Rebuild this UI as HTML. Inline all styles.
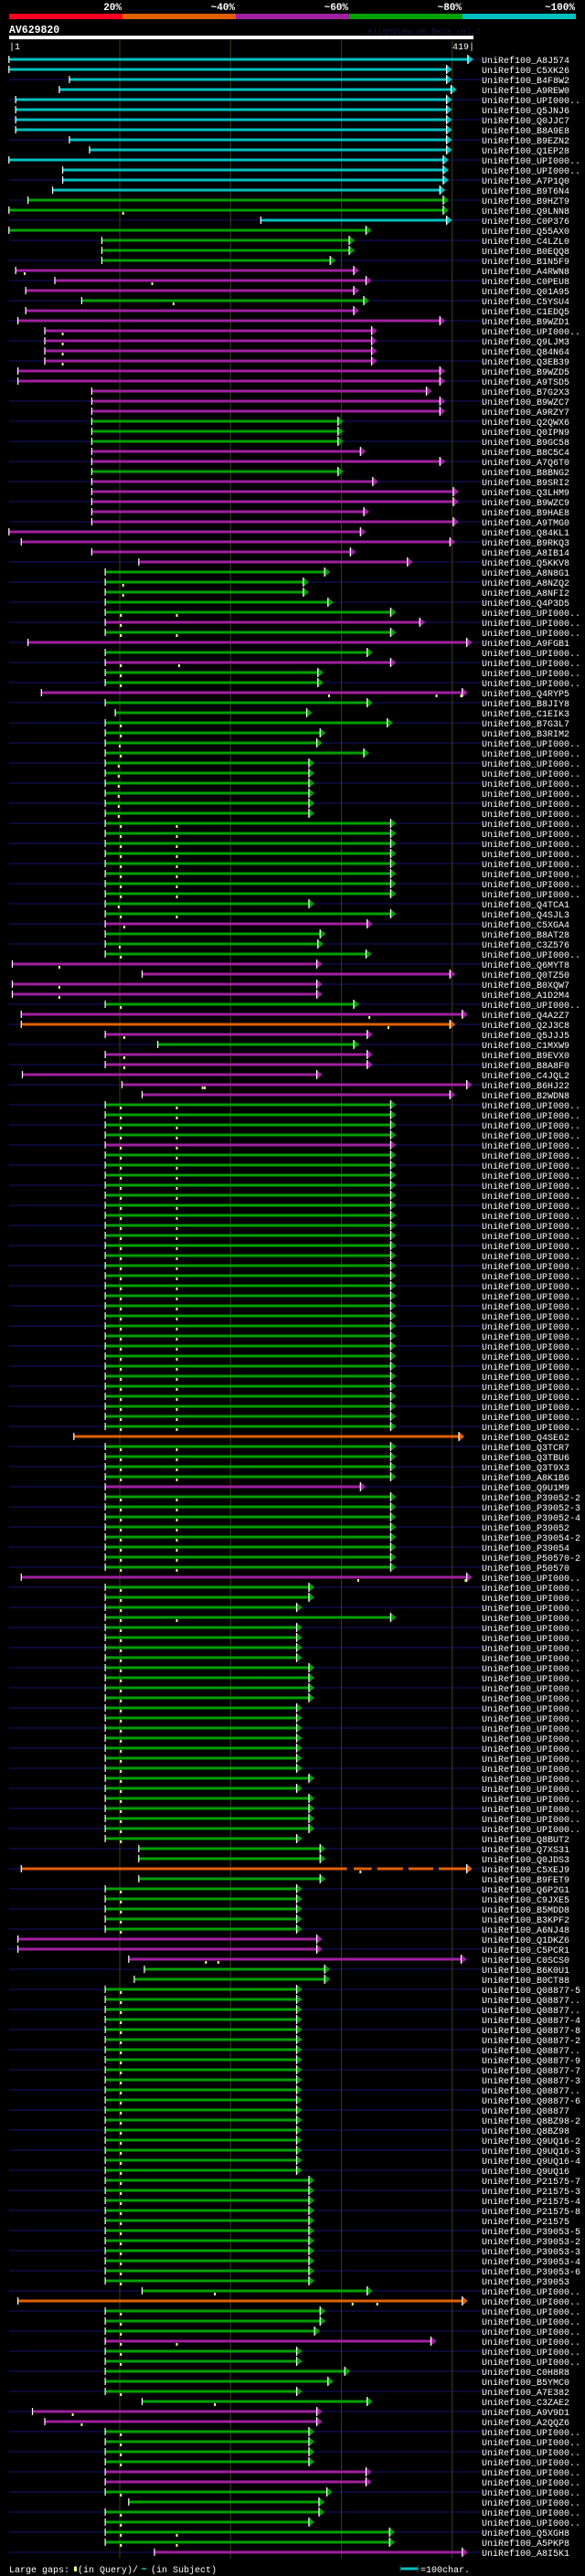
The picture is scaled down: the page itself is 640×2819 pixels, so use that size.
<!DOCTYPE html>
<html><head><meta charset="utf-8"><style>
html,body{margin:0;padding:0;background:#000;}
svg{display:block;}
.c{stroke:#00c0c0;stroke-width:3;fill:none}
.g{stroke:#00a000;stroke-width:3;fill:none}
.m{stroke:#a020a0;stroke-width:3;fill:none}
.o{stroke:#e06000;stroke-width:3;fill:none}
.lab text{font-family:"Liberation Mono",monospace;font-size:10px;fill:#fff}
</style></head><body>
<svg width="640" height="2819" viewBox="0 0 640 2819" xmlns="http://www.w3.org/2000/svg">
<defs>
<pattern id="bgp" x="0" y="64" width="10" height="22" patternUnits="userSpaceOnUse"><rect x="0" y="0" width="10" height="2" fill="#0a0a36"/></pattern>
<path id="t" d="M0-4v8" stroke="#fff" stroke-width="1"/>
<g id="ac"><path d="M0-5v10l5-5z" fill="#00c0c0"/><path d="M0-5v10" stroke="#fff"/></g>
<g id="ag"><path d="M0-5v10l5-5z" fill="#00a000"/><path d="M0-5v10" stroke="#fff"/></g>
<g id="am"><path d="M0-5v10l5-5z" fill="#a020a0"/><path d="M0-5v10" stroke="#fff"/></g>
<g id="ao"><path d="M0-5v10l5-5z" fill="#e06000"/><path d="M0-5v10" stroke="#fff"/></g>
<rect id="k" x="-0.8" y="2" width="1.6" height="3" fill="#ffff80"/>
</defs>
<rect width="640" height="2819" fill="#000"/>
<!-- header -->
<g font-family="Liberation Mono, monospace" font-weight="bold" font-size="11" fill="#fff" text-anchor="end">
<text x="133" y="11">20%</text><text x="257" y="11">~40%</text><text x="381" y="11">~60%</text><text x="505" y="11">~80%</text><text x="629" y="11">~100%</text>
</g>
<rect x="10" y="15" width="124" height="6" fill="#ff0020"/>
<rect x="134" y="15" width="124" height="6" fill="#e06000"/>
<rect x="258" y="15" width="124" height="6" fill="#a020a0"/>
<rect x="382" y="15" width="124" height="6" fill="#00a000"/>
<rect x="506" y="15" width="124" height="6" fill="#00c0c0"/>
<text x="10" y="36" font-family="Liberation Mono, monospace" font-weight="bold" font-size="11.5" fill="#fff">AV629820</text>
<text x="402" y="37" font-family="Liberation Mono, monospace" font-size="9" fill="#14144a">AlignView.pm Beta rel.7</text>
<rect x="10" y="39" width="508" height="4" fill="#fff"/>
<text x="10" y="54" font-family="Liberation Mono, monospace" font-size="10" fill="#fff">|1</text>
<text x="519" y="54" font-family="Liberation Mono, monospace" font-size="10" fill="#fff" text-anchor="end">419|</text>

<g transform="scale(1.2245 1)">
<rect x="8" y="60" width="422" height="2740" fill="url(#bgp)"/>
<path d="M107 44V2800M206 44V2800M305 44V2800M404 44V2800" stroke="#3a3a12" stroke-width="0.9"/>

<g transform="translate(0,65)"><path class="c" d="M8 0H418"/><use href="#t" x="8"/><use href="#ac" x="418"/></g>
<g transform="translate(0,76)"><path class="c" d="M8 0H399"/><use href="#t" x="8"/><use href="#ac" x="399"/></g>
<g transform="translate(0,87)"><path class="c" d="M62 0H399"/><use href="#t" x="62"/><use href="#ac" x="399"/></g>
<g transform="translate(0,98)"><path class="c" d="M53 0H403"/><use href="#t" x="53"/><use href="#ac" x="403"/></g>
<g transform="translate(0,109)"><path class="c" d="M14 0H399"/><use href="#t" x="14"/><use href="#ac" x="399"/></g>
<g transform="translate(0,120)"><path class="c" d="M14 0H399"/><use href="#t" x="14"/><use href="#ac" x="399"/></g>
<g transform="translate(0,131)"><path class="c" d="M14 0H399"/><use href="#t" x="14"/><use href="#ac" x="399"/></g>
<g transform="translate(0,142)"><path class="c" d="M14 0H399"/><use href="#t" x="14"/><use href="#ac" x="399"/></g>
<g transform="translate(0,153)"><path class="c" d="M62 0H399"/><use href="#t" x="62"/><use href="#ac" x="399"/></g>
<g transform="translate(0,164)"><path class="c" d="M80 0H399"/><use href="#t" x="80"/><use href="#ac" x="399"/></g>
<g transform="translate(0,175)"><path class="c" d="M8 0H396"/><use href="#t" x="8"/><use href="#ac" x="396"/></g>
<g transform="translate(0,186)"><path class="c" d="M56 0H396"/><use href="#t" x="56"/><use href="#ac" x="396"/></g>
<g transform="translate(0,197)"><path class="c" d="M56 0H396"/><use href="#t" x="56"/><use href="#ac" x="396"/></g>
<g transform="translate(0,208)"><path class="c" d="M47 0H393"/><use href="#t" x="47"/><use href="#ac" x="393"/></g>
<g transform="translate(0,219)"><path class="g" d="M25 0H396"/><use href="#t" x="25"/><use href="#ag" x="396"/></g>
<g transform="translate(0,230)"><path class="g" d="M8 0H396"/><use href="#t" x="8"/><use href="#ag" x="396"/><use href="#k" x="110"/></g>
<g transform="translate(0,241)"><path class="c" d="M233 0H399"/><use href="#t" x="233"/><use href="#ac" x="399"/></g>
<g transform="translate(0,252)"><path class="g" d="M8 0H327"/><use href="#t" x="8"/><use href="#ag" x="327"/></g>
<g transform="translate(0,263)"><path class="g" d="M91 0H312"/><use href="#t" x="91"/><use href="#ag" x="312"/></g>
<g transform="translate(0,274)"><path class="g" d="M91 0H312"/><use href="#t" x="91"/><use href="#ag" x="312"/></g>
<g transform="translate(0,285)"><path class="g" d="M91 0H295"/><use href="#t" x="91"/><use href="#ag" x="295"/></g>
<g transform="translate(0,296)"><path class="m" d="M14 0H316"/><use href="#t" x="14"/><use href="#am" x="316"/><use href="#k" x="22"/></g>
<g transform="translate(0,307)"><path class="m" d="M49 0H327"/><use href="#t" x="49"/><use href="#am" x="327"/><use href="#k" x="136"/></g>
<g transform="translate(0,318)"><path class="m" d="M23 0H316"/><use href="#t" x="23"/><use href="#am" x="316"/></g>
<g transform="translate(0,329)"><path class="g" d="M73 0H325"/><use href="#t" x="73"/><use href="#ag" x="325"/><use href="#k" x="155"/></g>
<g transform="translate(0,340)"><path class="m" d="M23 0H316"/><use href="#t" x="23"/><use href="#am" x="316"/></g>
<g transform="translate(0,351)"><path class="m" d="M16 0H393"/><use href="#t" x="16"/><use href="#am" x="393"/></g>
<g transform="translate(0,362)"><path class="m" d="M40 0H332"/><use href="#t" x="40"/><use href="#am" x="332"/><use href="#k" x="56"/></g>
<g transform="translate(0,373)"><path class="m" d="M40 0H332"/><use href="#t" x="40"/><use href="#am" x="332"/><use href="#k" x="56"/></g>
<g transform="translate(0,384)"><path class="m" d="M40 0H332"/><use href="#t" x="40"/><use href="#am" x="332"/><use href="#k" x="56"/></g>
<g transform="translate(0,395)"><path class="m" d="M40 0H332"/><use href="#t" x="40"/><use href="#am" x="332"/><use href="#k" x="56"/></g>
<g transform="translate(0,406)"><path class="m" d="M16 0H393"/><use href="#t" x="16"/><use href="#am" x="393"/></g>
<g transform="translate(0,417)"><path class="m" d="M16 0H393"/><use href="#t" x="16"/><use href="#am" x="393"/></g>
<g transform="translate(0,428)"><path class="m" d="M82 0H381"/><use href="#t" x="82"/><use href="#am" x="381"/></g>
<g transform="translate(0,439)"><path class="m" d="M82 0H393"/><use href="#t" x="82"/><use href="#am" x="393"/></g>
<g transform="translate(0,450)"><path class="m" d="M82 0H393"/><use href="#t" x="82"/><use href="#am" x="393"/></g>
<g transform="translate(0,461)"><path class="g" d="M82 0H302"/><use href="#t" x="82"/><use href="#ag" x="302"/></g>
<g transform="translate(0,472)"><path class="g" d="M82 0H302"/><use href="#t" x="82"/><use href="#ag" x="302"/></g>
<g transform="translate(0,483)"><path class="g" d="M82 0H302"/><use href="#t" x="82"/><use href="#ag" x="302"/></g>
<g transform="translate(0,494)"><path class="m" d="M82 0H322"/><use href="#t" x="82"/><use href="#am" x="322"/></g>
<g transform="translate(0,505)"><path class="m" d="M82 0H393"/><use href="#t" x="82"/><use href="#am" x="393"/></g>
<g transform="translate(0,516)"><path class="g" d="M82 0H302"/><use href="#t" x="82"/><use href="#ag" x="302"/></g>
<g transform="translate(0,527)"><path class="m" d="M82 0H333"/><use href="#t" x="82"/><use href="#am" x="333"/></g>
<g transform="translate(0,538)"><path class="m" d="M82 0H405"/><use href="#t" x="82"/><use href="#am" x="405"/></g>
<g transform="translate(0,549)"><path class="m" d="M82 0H405"/><use href="#t" x="82"/><use href="#am" x="405"/></g>
<g transform="translate(0,560)"><path class="m" d="M82 0H325"/><use href="#t" x="82"/><use href="#am" x="325"/></g>
<g transform="translate(0,571)"><path class="m" d="M82 0H405"/><use href="#t" x="82"/><use href="#am" x="405"/></g>
<g transform="translate(0,582)"><path class="m" d="M8 0H322"/><use href="#t" x="8"/><use href="#am" x="322"/></g>
<g transform="translate(0,593)"><path class="m" d="M19 0H402"/><use href="#t" x="19"/><use href="#am" x="402"/></g>
<g transform="translate(0,604)"><path class="m" d="M82 0H313"/><use href="#t" x="82"/><use href="#am" x="313"/></g>
<g transform="translate(0,615)"><path class="m" d="M124 0H364"/><use href="#t" x="124"/><use href="#am" x="364"/></g>
<g transform="translate(0,626)"><path class="g" d="M94 0H290"/><use href="#t" x="94"/><use href="#ag" x="290"/></g>
<g transform="translate(0,637)"><path class="g" d="M94 0H271"/><use href="#t" x="94"/><use href="#ag" x="271"/><use href="#k" x="110"/></g>
<g transform="translate(0,648)"><path class="g" d="M94 0H271"/><use href="#t" x="94"/><use href="#ag" x="271"/><use href="#k" x="110"/></g>
<g transform="translate(0,659)"><path class="g" d="M94 0H293"/><use href="#t" x="94"/><use href="#ag" x="293"/></g>
<g transform="translate(0,670)"><path class="g" d="M94 0H349"/><use href="#t" x="94"/><use href="#ag" x="349"/><use href="#k" x="108"/><use href="#k" x="158"/></g>
<g transform="translate(0,681)"><path class="m" d="M94 0H375"/><use href="#t" x="94"/><use href="#am" x="375"/><use href="#k" x="108"/></g>
<g transform="translate(0,692)"><path class="g" d="M94 0H349"/><use href="#t" x="94"/><use href="#ag" x="349"/><use href="#k" x="108"/><use href="#k" x="158"/></g>
<g transform="translate(0,703)"><path class="m" d="M25 0H417"/><use href="#t" x="25"/><use href="#am" x="417"/></g>
<g transform="translate(0,714)"><path class="g" d="M94 0H328"/><use href="#t" x="94"/><use href="#ag" x="328"/></g>
<g transform="translate(0,725)"><path class="m" d="M94 0H349"/><use href="#t" x="94"/><use href="#am" x="349"/><use href="#k" x="108"/><use href="#k" x="160"/></g>
<g transform="translate(0,736)"><path class="g" d="M94 0H284"/><use href="#t" x="94"/><use href="#ag" x="284"/><use href="#k" x="108"/></g>
<g transform="translate(0,747)"><path class="g" d="M94 0H284"/><use href="#t" x="94"/><use href="#ag" x="284"/><use href="#k" x="108"/></g>
<g transform="translate(0,758)"><path class="m" d="M37 0H413"/><use href="#t" x="37"/><use href="#am" x="413"/><use href="#k" x="294"/><use href="#k" x="390"/><use href="#k" x="412"/></g>
<g transform="translate(0,769)"><path class="g" d="M94 0H328"/><use href="#t" x="94"/><use href="#ag" x="328"/></g>
<g transform="translate(0,780)"><path class="g" d="M103 0H274"/><use href="#t" x="103"/><use href="#ag" x="274"/></g>
<g transform="translate(0,791)"><path class="g" d="M94 0H346"/><use href="#t" x="94"/><use href="#ag" x="346"/><use href="#k" x="108"/></g>
<g transform="translate(0,802)"><path class="g" d="M94 0H286"/><use href="#t" x="94"/><use href="#ag" x="286"/><use href="#k" x="108"/></g>
<g transform="translate(0,813)"><path class="g" d="M94 0H283"/><use href="#t" x="94"/><use href="#ag" x="283"/><use href="#k" x="107"/></g>
<g transform="translate(0,824)"><path class="g" d="M94 0H325"/><use href="#t" x="94"/><use href="#ag" x="325"/><use href="#k" x="108"/></g>
<g transform="translate(0,835)"><path class="g" d="M94 0H276"/><use href="#t" x="94"/><use href="#ag" x="276"/><use href="#k" x="106"/></g>
<g transform="translate(0,846)"><path class="g" d="M94 0H276"/><use href="#t" x="94"/><use href="#ag" x="276"/><use href="#k" x="106"/></g>
<g transform="translate(0,857)"><path class="g" d="M94 0H276"/><use href="#t" x="94"/><use href="#ag" x="276"/><use href="#k" x="106"/></g>
<g transform="translate(0,868)"><path class="g" d="M94 0H276"/><use href="#t" x="94"/><use href="#ag" x="276"/><use href="#k" x="106"/></g>
<g transform="translate(0,879)"><path class="g" d="M94 0H276"/><use href="#t" x="94"/><use href="#ag" x="276"/><use href="#k" x="106"/></g>
<g transform="translate(0,890)"><path class="g" d="M94 0H276"/><use href="#t" x="94"/><use href="#ag" x="276"/><use href="#k" x="106"/></g>
<g transform="translate(0,901)"><path class="g" d="M94 0H349"/><use href="#t" x="94"/><use href="#ag" x="349"/><use href="#k" x="108"/><use href="#k" x="158"/></g>
<g transform="translate(0,912)"><path class="g" d="M94 0H349"/><use href="#t" x="94"/><use href="#ag" x="349"/><use href="#k" x="108"/><use href="#k" x="158"/></g>
<g transform="translate(0,923)"><path class="g" d="M94 0H349"/><use href="#t" x="94"/><use href="#ag" x="349"/><use href="#k" x="108"/><use href="#k" x="158"/></g>
<g transform="translate(0,934)"><path class="g" d="M94 0H349"/><use href="#t" x="94"/><use href="#ag" x="349"/><use href="#k" x="108"/><use href="#k" x="158"/></g>
<g transform="translate(0,945)"><path class="g" d="M94 0H349"/><use href="#t" x="94"/><use href="#ag" x="349"/><use href="#k" x="108"/><use href="#k" x="158"/></g>
<g transform="translate(0,956)"><path class="g" d="M94 0H349"/><use href="#t" x="94"/><use href="#ag" x="349"/><use href="#k" x="108"/><use href="#k" x="158"/></g>
<g transform="translate(0,967)"><path class="g" d="M94 0H349"/><use href="#t" x="94"/><use href="#ag" x="349"/><use href="#k" x="108"/><use href="#k" x="158"/></g>
<g transform="translate(0,978)"><path class="g" d="M94 0H349"/><use href="#t" x="94"/><use href="#ag" x="349"/><use href="#k" x="108"/><use href="#k" x="158"/></g>
<g transform="translate(0,989)"><path class="g" d="M94 0H276"/><use href="#t" x="94"/><use href="#ag" x="276"/><use href="#k" x="106"/></g>
<g transform="translate(0,1000)"><path class="g" d="M94 0H349"/><use href="#t" x="94"/><use href="#ag" x="349"/><use href="#k" x="108"/><use href="#k" x="158"/></g>
<g transform="translate(0,1011)"><path class="m" d="M94 0H328"/><use href="#t" x="94"/><use href="#am" x="328"/><use href="#k" x="111"/></g>
<g transform="translate(0,1022)"><path class="g" d="M94 0H286"/><use href="#t" x="94"/><use href="#ag" x="286"/></g>
<g transform="translate(0,1033)"><path class="g" d="M94 0H284"/><use href="#t" x="94"/><use href="#ag" x="284"/><use href="#k" x="107"/></g>
<g transform="translate(0,1044)"><path class="g" d="M94 0H327"/><use href="#t" x="94"/><use href="#ag" x="327"/><use href="#k" x="108"/></g>
<g transform="translate(0,1055)"><path class="m" d="M11 0H283"/><use href="#t" x="11"/><use href="#am" x="283"/><use href="#k" x="53"/></g>
<g transform="translate(0,1066)"><path class="m" d="M127 0H402"/><use href="#t" x="127"/><use href="#am" x="402"/></g>
<g transform="translate(0,1077)"><path class="m" d="M11 0H283"/><use href="#t" x="11"/><use href="#am" x="283"/><use href="#k" x="53"/></g>
<g transform="translate(0,1088)"><path class="m" d="M11 0H283"/><use href="#t" x="11"/><use href="#am" x="283"/><use href="#k" x="53"/></g>
<g transform="translate(0,1099)"><path class="g" d="M94 0H316"/><use href="#t" x="94"/><use href="#ag" x="316"/><use href="#k" x="108"/></g>
<g transform="translate(0,1110)"><path class="m" d="M19 0H413"/><use href="#t" x="19"/><use href="#am" x="413"/><use href="#k" x="330"/></g>
<g transform="translate(0,1121)"><path class="o" d="M19 0H402"/><use href="#t" x="19"/><use href="#ao" x="402"/><use href="#k" x="347"/></g>
<g transform="translate(0,1132)"><path class="m" d="M94 0H328"/><use href="#t" x="94"/><use href="#am" x="328"/><use href="#k" x="111"/></g>
<g transform="translate(0,1143)"><path class="g" d="M141 0H316"/><use href="#t" x="141"/><use href="#ag" x="316"/></g>
<g transform="translate(0,1154)"><path class="m" d="M94 0H328"/><use href="#t" x="94"/><use href="#am" x="328"/><use href="#k" x="111"/></g>
<g transform="translate(0,1165)"><path class="m" d="M94 0H328"/><use href="#t" x="94"/><use href="#am" x="328"/><use href="#k" x="111"/></g>
<g transform="translate(0,1176)"><path class="m" d="M20 0H283"/><use href="#t" x="20"/><use href="#am" x="283"/></g>
<g transform="translate(0,1187)"><path class="m" d="M109 0H417"/><use href="#t" x="109"/><use href="#am" x="417"/><use href="#k" x="181"/><use href="#k" x="183"/></g>
<g transform="translate(0,1198)"><path class="m" d="M127 0H402"/><use href="#t" x="127"/><use href="#am" x="402"/></g>
<g transform="translate(0,1209)"><path class="g" d="M94 0H349"/><use href="#t" x="94"/><use href="#ag" x="349"/><use href="#k" x="108"/><use href="#k" x="158"/></g>
<g transform="translate(0,1220)"><path class="g" d="M94 0H349"/><use href="#t" x="94"/><use href="#ag" x="349"/><use href="#k" x="108"/><use href="#k" x="158"/></g>
<g transform="translate(0,1231)"><path class="g" d="M94 0H349"/><use href="#t" x="94"/><use href="#ag" x="349"/><use href="#k" x="108"/><use href="#k" x="158"/></g>
<g transform="translate(0,1242)"><path class="g" d="M94 0H349"/><use href="#t" x="94"/><use href="#ag" x="349"/><use href="#k" x="108"/><use href="#k" x="158"/></g>
<g transform="translate(0,1253)"><path class="m" d="M94 0H349"/><use href="#t" x="94"/><use href="#am" x="349"/><use href="#k" x="108"/><use href="#k" x="158"/></g>
<g transform="translate(0,1264)"><path class="g" d="M94 0H349"/><use href="#t" x="94"/><use href="#ag" x="349"/><use href="#k" x="108"/><use href="#k" x="158"/></g>
<g transform="translate(0,1275)"><path class="g" d="M94 0H349"/><use href="#t" x="94"/><use href="#ag" x="349"/><use href="#k" x="108"/><use href="#k" x="158"/></g>
<g transform="translate(0,1286)"><path class="g" d="M94 0H349"/><use href="#t" x="94"/><use href="#ag" x="349"/><use href="#k" x="108"/><use href="#k" x="158"/></g>
<g transform="translate(0,1297)"><path class="g" d="M94 0H349"/><use href="#t" x="94"/><use href="#ag" x="349"/><use href="#k" x="108"/><use href="#k" x="158"/></g>
<g transform="translate(0,1308)"><path class="g" d="M94 0H349"/><use href="#t" x="94"/><use href="#ag" x="349"/><use href="#k" x="108"/><use href="#k" x="158"/></g>
<g transform="translate(0,1319)"><path class="g" d="M94 0H349"/><use href="#t" x="94"/><use href="#ag" x="349"/><use href="#k" x="108"/><use href="#k" x="158"/></g>
<g transform="translate(0,1330)"><path class="g" d="M94 0H349"/><use href="#t" x="94"/><use href="#ag" x="349"/><use href="#k" x="108"/><use href="#k" x="158"/></g>
<g transform="translate(0,1341)"><path class="g" d="M94 0H349"/><use href="#t" x="94"/><use href="#ag" x="349"/><use href="#k" x="108"/><use href="#k" x="158"/></g>
<g transform="translate(0,1352)"><path class="g" d="M94 0H349"/><use href="#t" x="94"/><use href="#ag" x="349"/><use href="#k" x="108"/><use href="#k" x="158"/></g>
<g transform="translate(0,1363)"><path class="g" d="M94 0H349"/><use href="#t" x="94"/><use href="#ag" x="349"/><use href="#k" x="108"/><use href="#k" x="158"/></g>
<g transform="translate(0,1374)"><path class="g" d="M94 0H349"/><use href="#t" x="94"/><use href="#ag" x="349"/><use href="#k" x="108"/><use href="#k" x="158"/></g>
<g transform="translate(0,1385)"><path class="g" d="M94 0H349"/><use href="#t" x="94"/><use href="#ag" x="349"/><use href="#k" x="108"/><use href="#k" x="158"/></g>
<g transform="translate(0,1396)"><path class="g" d="M94 0H349"/><use href="#t" x="94"/><use href="#ag" x="349"/><use href="#k" x="108"/><use href="#k" x="158"/></g>
<g transform="translate(0,1407)"><path class="g" d="M94 0H349"/><use href="#t" x="94"/><use href="#ag" x="349"/><use href="#k" x="108"/><use href="#k" x="158"/></g>
<g transform="translate(0,1418)"><path class="g" d="M94 0H349"/><use href="#t" x="94"/><use href="#ag" x="349"/><use href="#k" x="108"/><use href="#k" x="158"/></g>
<g transform="translate(0,1429)"><path class="g" d="M94 0H349"/><use href="#t" x="94"/><use href="#ag" x="349"/><use href="#k" x="108"/><use href="#k" x="158"/></g>
<g transform="translate(0,1440)"><path class="g" d="M94 0H349"/><use href="#t" x="94"/><use href="#ag" x="349"/><use href="#k" x="108"/><use href="#k" x="158"/></g>
<g transform="translate(0,1451)"><path class="g" d="M94 0H349"/><use href="#t" x="94"/><use href="#ag" x="349"/><use href="#k" x="108"/><use href="#k" x="158"/></g>
<g transform="translate(0,1462)"><path class="g" d="M94 0H349"/><use href="#t" x="94"/><use href="#ag" x="349"/><use href="#k" x="108"/><use href="#k" x="158"/></g>
<g transform="translate(0,1473)"><path class="g" d="M94 0H349"/><use href="#t" x="94"/><use href="#ag" x="349"/><use href="#k" x="108"/><use href="#k" x="158"/></g>
<g transform="translate(0,1484)"><path class="g" d="M94 0H349"/><use href="#t" x="94"/><use href="#ag" x="349"/><use href="#k" x="108"/><use href="#k" x="158"/></g>
<g transform="translate(0,1495)"><path class="g" d="M94 0H349"/><use href="#t" x="94"/><use href="#ag" x="349"/><use href="#k" x="108"/><use href="#k" x="158"/></g>
<g transform="translate(0,1506)"><path class="g" d="M94 0H349"/><use href="#t" x="94"/><use href="#ag" x="349"/><use href="#k" x="108"/><use href="#k" x="158"/></g>
<g transform="translate(0,1517)"><path class="g" d="M94 0H349"/><use href="#t" x="94"/><use href="#ag" x="349"/><use href="#k" x="108"/><use href="#k" x="158"/></g>
<g transform="translate(0,1528)"><path class="g" d="M94 0H349"/><use href="#t" x="94"/><use href="#ag" x="349"/><use href="#k" x="108"/><use href="#k" x="158"/></g>
<g transform="translate(0,1539)"><path class="g" d="M94 0H349"/><use href="#t" x="94"/><use href="#ag" x="349"/><use href="#k" x="108"/><use href="#k" x="158"/></g>
<g transform="translate(0,1550)"><path class="g" d="M94 0H349"/><use href="#t" x="94"/><use href="#ag" x="349"/><use href="#k" x="108"/><use href="#k" x="158"/></g>
<g transform="translate(0,1561)"><path class="g" d="M94 0H349"/><use href="#t" x="94"/><use href="#ag" x="349"/><use href="#k" x="108"/><use href="#k" x="158"/></g>
<g transform="translate(0,1572)"><path class="o" d="M66 0H410"/><use href="#t" x="66"/><use href="#ao" x="410"/></g>
<g transform="translate(0,1583)"><path class="g" d="M94 0H349"/><use href="#t" x="94"/><use href="#ag" x="349"/><use href="#k" x="108"/><use href="#k" x="158"/></g>
<g transform="translate(0,1594)"><path class="g" d="M94 0H349"/><use href="#t" x="94"/><use href="#ag" x="349"/><use href="#k" x="108"/><use href="#k" x="158"/></g>
<g transform="translate(0,1605)"><path class="g" d="M94 0H349"/><use href="#t" x="94"/><use href="#ag" x="349"/><use href="#k" x="108"/><use href="#k" x="158"/></g>
<g transform="translate(0,1616)"><path class="g" d="M94 0H349"/><use href="#t" x="94"/><use href="#ag" x="349"/><use href="#k" x="108"/><use href="#k" x="158"/></g>
<g transform="translate(0,1627)"><path class="m" d="M94 0H322"/><use href="#t" x="94"/><use href="#am" x="322"/></g>
<g transform="translate(0,1638)"><path class="g" d="M94 0H349"/><use href="#t" x="94"/><use href="#ag" x="349"/><use href="#k" x="108"/><use href="#k" x="158"/></g>
<g transform="translate(0,1649)"><path class="g" d="M94 0H349"/><use href="#t" x="94"/><use href="#ag" x="349"/><use href="#k" x="108"/><use href="#k" x="158"/></g>
<g transform="translate(0,1660)"><path class="g" d="M94 0H349"/><use href="#t" x="94"/><use href="#ag" x="349"/><use href="#k" x="108"/><use href="#k" x="158"/></g>
<g transform="translate(0,1671)"><path class="g" d="M94 0H349"/><use href="#t" x="94"/><use href="#ag" x="349"/><use href="#k" x="108"/><use href="#k" x="158"/></g>
<g transform="translate(0,1682)"><path class="g" d="M94 0H349"/><use href="#t" x="94"/><use href="#ag" x="349"/><use href="#k" x="108"/><use href="#k" x="158"/></g>
<g transform="translate(0,1693)"><path class="g" d="M94 0H349"/><use href="#t" x="94"/><use href="#ag" x="349"/><use href="#k" x="108"/><use href="#k" x="158"/></g>
<g transform="translate(0,1704)"><path class="g" d="M94 0H349"/><use href="#t" x="94"/><use href="#ag" x="349"/><use href="#k" x="108"/><use href="#k" x="158"/></g>
<g transform="translate(0,1715)"><path class="g" d="M94 0H349"/><use href="#t" x="94"/><use href="#ag" x="349"/><use href="#k" x="108"/><use href="#k" x="158"/></g>
<g transform="translate(0,1726)"><path class="m" d="M19 0H417"/><use href="#t" x="19"/><use href="#am" x="417"/><use href="#k" x="320"/><use href="#k" x="416"/></g>
<g transform="translate(0,1737)"><path class="g" d="M94 0H276"/><use href="#t" x="94"/><use href="#ag" x="276"/><use href="#k" x="108"/></g>
<g transform="translate(0,1748)"><path class="g" d="M94 0H276"/><use href="#t" x="94"/><use href="#ag" x="276"/><use href="#k" x="108"/></g>
<g transform="translate(0,1759)"><path class="g" d="M94 0H265"/><use href="#t" x="94"/><use href="#ag" x="265"/><use href="#k" x="108"/></g>
<g transform="translate(0,1770)"><path class="g" d="M94 0H349"/><use href="#t" x="94"/><use href="#ag" x="349"/><use href="#k" x="108"/><use href="#k" x="158"/></g>
<g transform="translate(0,1781)"><path class="g" d="M94 0H265"/><use href="#t" x="94"/><use href="#ag" x="265"/><use href="#k" x="108"/></g>
<g transform="translate(0,1792)"><path class="g" d="M94 0H265"/><use href="#t" x="94"/><use href="#ag" x="265"/><use href="#k" x="108"/></g>
<g transform="translate(0,1803)"><path class="g" d="M94 0H265"/><use href="#t" x="94"/><use href="#ag" x="265"/><use href="#k" x="108"/></g>
<g transform="translate(0,1814)"><path class="g" d="M94 0H265"/><use href="#t" x="94"/><use href="#ag" x="265"/><use href="#k" x="108"/></g>
<g transform="translate(0,1825)"><path class="g" d="M94 0H276"/><use href="#t" x="94"/><use href="#ag" x="276"/><use href="#k" x="108"/></g>
<g transform="translate(0,1836)"><path class="g" d="M94 0H276"/><use href="#t" x="94"/><use href="#ag" x="276"/><use href="#k" x="108"/></g>
<g transform="translate(0,1847)"><path class="g" d="M94 0H276"/><use href="#t" x="94"/><use href="#ag" x="276"/><use href="#k" x="108"/></g>
<g transform="translate(0,1858)"><path class="g" d="M94 0H276"/><use href="#t" x="94"/><use href="#ag" x="276"/><use href="#k" x="108"/></g>
<g transform="translate(0,1869)"><path class="g" d="M94 0H265"/><use href="#t" x="94"/><use href="#ag" x="265"/><use href="#k" x="108"/></g>
<g transform="translate(0,1880)"><path class="g" d="M94 0H265"/><use href="#t" x="94"/><use href="#ag" x="265"/><use href="#k" x="108"/></g>
<g transform="translate(0,1891)"><path class="g" d="M94 0H265"/><use href="#t" x="94"/><use href="#ag" x="265"/><use href="#k" x="108"/></g>
<g transform="translate(0,1902)"><path class="g" d="M94 0H265"/><use href="#t" x="94"/><use href="#ag" x="265"/><use href="#k" x="108"/></g>
<g transform="translate(0,1913)"><path class="g" d="M94 0H265"/><use href="#t" x="94"/><use href="#ag" x="265"/><use href="#k" x="108"/></g>
<g transform="translate(0,1924)"><path class="g" d="M94 0H265"/><use href="#t" x="94"/><use href="#ag" x="265"/><use href="#k" x="108"/></g>
<g transform="translate(0,1935)"><path class="g" d="M94 0H265"/><use href="#t" x="94"/><use href="#ag" x="265"/><use href="#k" x="108"/></g>
<g transform="translate(0,1946)"><path class="g" d="M94 0H276"/><use href="#t" x="94"/><use href="#ag" x="276"/><use href="#k" x="108"/></g>
<g transform="translate(0,1957)"><path class="g" d="M94 0H265"/><use href="#t" x="94"/><use href="#ag" x="265"/><use href="#k" x="108"/></g>
<g transform="translate(0,1968)"><path class="g" d="M94 0H276"/><use href="#t" x="94"/><use href="#ag" x="276"/><use href="#k" x="108"/></g>
<g transform="translate(0,1979)"><path class="g" d="M94 0H276"/><use href="#t" x="94"/><use href="#ag" x="276"/><use href="#k" x="108"/></g>
<g transform="translate(0,1990)"><path class="g" d="M94 0H276"/><use href="#t" x="94"/><use href="#ag" x="276"/><use href="#k" x="108"/></g>
<g transform="translate(0,2001)"><path class="g" d="M94 0H276"/><use href="#t" x="94"/><use href="#ag" x="276"/><use href="#k" x="108"/></g>
<g transform="translate(0,2012)"><path class="g" d="M94 0H265"/><use href="#t" x="94"/><use href="#ag" x="265"/><use href="#k" x="108"/></g>
<g transform="translate(0,2023)"><path class="g" d="M124 0H286"/><use href="#t" x="124"/><use href="#ag" x="286"/></g>
<g transform="translate(0,2034)"><path class="g" d="M124 0H286"/><use href="#t" x="124"/><use href="#ag" x="286"/></g>
<g transform="translate(0,2045)"><path class="o" d="M19 0H310"/><path class="o" d="M316 0H332M337 0H360M365 0H387M392 0H417"/><use href="#t" x="19"/><use href="#ao" x="417"/><use href="#k" x="322"/></g>
<g transform="translate(0,2056)"><path class="g" d="M124 0H286"/><use href="#t" x="124"/><use href="#ag" x="286"/></g>
<g transform="translate(0,2067)"><path class="g" d="M94 0H265"/><use href="#t" x="94"/><use href="#ag" x="265"/><use href="#k" x="108"/></g>
<g transform="translate(0,2078)"><path class="g" d="M94 0H265"/><use href="#t" x="94"/><use href="#ag" x="265"/><use href="#k" x="108"/></g>
<g transform="translate(0,2089)"><path class="g" d="M94 0H265"/><use href="#t" x="94"/><use href="#ag" x="265"/><use href="#k" x="108"/></g>
<g transform="translate(0,2100)"><path class="g" d="M94 0H265"/><use href="#t" x="94"/><use href="#ag" x="265"/><use href="#k" x="108"/></g>
<g transform="translate(0,2111)"><path class="g" d="M94 0H265"/><use href="#t" x="94"/><use href="#ag" x="265"/><use href="#k" x="108"/></g>
<g transform="translate(0,2122)"><path class="m" d="M16 0H283"/><use href="#t" x="16"/><use href="#am" x="283"/></g>
<g transform="translate(0,2133)"><path class="m" d="M16 0H283"/><use href="#t" x="16"/><use href="#am" x="283"/></g>
<g transform="translate(0,2144)"><path class="m" d="M115 0H412"/><use href="#t" x="115"/><use href="#am" x="412"/><use href="#k" x="184"/><use href="#k" x="195"/></g>
<g transform="translate(0,2155)"><path class="g" d="M129 0H290"/><use href="#t" x="129"/><use href="#ag" x="290"/></g>
<g transform="translate(0,2166)"><path class="g" d="M120 0H290"/><use href="#t" x="120"/><use href="#ag" x="290"/></g>
<g transform="translate(0,2177)"><path class="g" d="M94 0H265"/><use href="#t" x="94"/><use href="#ag" x="265"/><use href="#k" x="108"/></g>
<g transform="translate(0,2188)"><path class="g" d="M94 0H265"/><use href="#t" x="94"/><use href="#ag" x="265"/><use href="#k" x="108"/></g>
<g transform="translate(0,2199)"><path class="g" d="M94 0H265"/><use href="#t" x="94"/><use href="#ag" x="265"/><use href="#k" x="108"/></g>
<g transform="translate(0,2210)"><path class="g" d="M94 0H265"/><use href="#t" x="94"/><use href="#ag" x="265"/><use href="#k" x="108"/></g>
<g transform="translate(0,2221)"><path class="g" d="M94 0H265"/><use href="#t" x="94"/><use href="#ag" x="265"/><use href="#k" x="108"/></g>
<g transform="translate(0,2232)"><path class="g" d="M94 0H265"/><use href="#t" x="94"/><use href="#ag" x="265"/><use href="#k" x="108"/></g>
<g transform="translate(0,2243)"><path class="g" d="M94 0H265"/><use href="#t" x="94"/><use href="#ag" x="265"/><use href="#k" x="108"/></g>
<g transform="translate(0,2254)"><path class="g" d="M94 0H265"/><use href="#t" x="94"/><use href="#ag" x="265"/><use href="#k" x="108"/></g>
<g transform="translate(0,2265)"><path class="g" d="M94 0H265"/><use href="#t" x="94"/><use href="#ag" x="265"/><use href="#k" x="108"/></g>
<g transform="translate(0,2276)"><path class="g" d="M94 0H265"/><use href="#t" x="94"/><use href="#ag" x="265"/><use href="#k" x="108"/></g>
<g transform="translate(0,2287)"><path class="g" d="M94 0H265"/><use href="#t" x="94"/><use href="#ag" x="265"/><use href="#k" x="108"/></g>
<g transform="translate(0,2298)"><path class="g" d="M94 0H265"/><use href="#t" x="94"/><use href="#ag" x="265"/><use href="#k" x="108"/></g>
<g transform="translate(0,2309)"><path class="g" d="M94 0H265"/><use href="#t" x="94"/><use href="#ag" x="265"/><use href="#k" x="108"/></g>
<g transform="translate(0,2320)"><path class="g" d="M94 0H265"/><use href="#t" x="94"/><use href="#ag" x="265"/><use href="#k" x="108"/></g>
<g transform="translate(0,2331)"><path class="g" d="M94 0H265"/><use href="#t" x="94"/><use href="#ag" x="265"/><use href="#k" x="108"/></g>
<g transform="translate(0,2342)"><path class="g" d="M94 0H265"/><use href="#t" x="94"/><use href="#ag" x="265"/><use href="#k" x="108"/></g>
<g transform="translate(0,2353)"><path class="g" d="M94 0H265"/><use href="#t" x="94"/><use href="#ag" x="265"/><use href="#k" x="108"/></g>
<g transform="translate(0,2364)"><path class="g" d="M94 0H265"/><use href="#t" x="94"/><use href="#ag" x="265"/><use href="#k" x="108"/></g>
<g transform="translate(0,2375)"><path class="g" d="M94 0H265"/><use href="#t" x="94"/><use href="#ag" x="265"/><use href="#k" x="108"/></g>
<g transform="translate(0,2386)"><path class="g" d="M94 0H276"/><use href="#t" x="94"/><use href="#ag" x="276"/><use href="#k" x="108"/></g>
<g transform="translate(0,2397)"><path class="g" d="M94 0H276"/><use href="#t" x="94"/><use href="#ag" x="276"/><use href="#k" x="108"/></g>
<g transform="translate(0,2408)"><path class="g" d="M94 0H276"/><use href="#t" x="94"/><use href="#ag" x="276"/><use href="#k" x="108"/></g>
<g transform="translate(0,2419)"><path class="g" d="M94 0H276"/><use href="#t" x="94"/><use href="#ag" x="276"/><use href="#k" x="108"/></g>
<g transform="translate(0,2430)"><path class="g" d="M94 0H276"/><use href="#t" x="94"/><use href="#ag" x="276"/><use href="#k" x="108"/></g>
<g transform="translate(0,2441)"><path class="g" d="M94 0H276"/><use href="#t" x="94"/><use href="#ag" x="276"/><use href="#k" x="108"/></g>
<g transform="translate(0,2452)"><path class="g" d="M94 0H276"/><use href="#t" x="94"/><use href="#ag" x="276"/><use href="#k" x="108"/></g>
<g transform="translate(0,2463)"><path class="g" d="M94 0H276"/><use href="#t" x="94"/><use href="#ag" x="276"/><use href="#k" x="108"/></g>
<g transform="translate(0,2474)"><path class="g" d="M94 0H276"/><use href="#t" x="94"/><use href="#ag" x="276"/><use href="#k" x="108"/></g>
<g transform="translate(0,2485)"><path class="g" d="M94 0H276"/><use href="#t" x="94"/><use href="#ag" x="276"/><use href="#k" x="108"/></g>
<g transform="translate(0,2496)"><path class="g" d="M94 0H276"/><use href="#t" x="94"/><use href="#ag" x="276"/><use href="#k" x="108"/></g>
<g transform="translate(0,2507)"><path class="g" d="M127 0H328"/><use href="#t" x="127"/><use href="#ag" x="328"/><use href="#k" x="192"/></g>
<g transform="translate(0,2518)"><path class="o" d="M16 0H413"/><use href="#t" x="16"/><use href="#ao" x="413"/><use href="#k" x="315"/><use href="#k" x="337"/></g>
<g transform="translate(0,2529)"><path class="g" d="M94 0H286"/><use href="#t" x="94"/><use href="#ag" x="286"/><use href="#k" x="108"/></g>
<g transform="translate(0,2540)"><path class="g" d="M94 0H286"/><use href="#t" x="94"/><use href="#ag" x="286"/><use href="#k" x="108"/></g>
<g transform="translate(0,2551)"><path class="g" d="M94 0H281"/><use href="#t" x="94"/><use href="#ag" x="281"/><use href="#k" x="108"/></g>
<g transform="translate(0,2562)"><path class="m" d="M94 0H385"/><use href="#t" x="94"/><use href="#am" x="385"/><use href="#k" x="108"/><use href="#k" x="158"/></g>
<g transform="translate(0,2573)"><path class="g" d="M94 0H265"/><use href="#t" x="94"/><use href="#ag" x="265"/><use href="#k" x="108"/></g>
<g transform="translate(0,2584)"><path class="g" d="M94 0H265"/><use href="#t" x="94"/><use href="#ag" x="265"/><use href="#k" x="108"/></g>
<g transform="translate(0,2595)"><path class="g" d="M94 0H308"/><use href="#t" x="94"/><use href="#ag" x="308"/></g>
<g transform="translate(0,2606)"><path class="g" d="M94 0H293"/><use href="#t" x="94"/><use href="#ag" x="293"/></g>
<g transform="translate(0,2617)"><path class="g" d="M94 0H265"/><use href="#t" x="94"/><use href="#ag" x="265"/><use href="#k" x="108"/></g>
<g transform="translate(0,2628)"><path class="g" d="M127 0H328"/><use href="#t" x="127"/><use href="#ag" x="328"/><use href="#k" x="192"/></g>
<g transform="translate(0,2639)"><path class="m" d="M29 0H283"/><use href="#t" x="29"/><use href="#am" x="283"/><use href="#k" x="65"/></g>
<g transform="translate(0,2650)"><path class="m" d="M40 0H283"/><use href="#t" x="40"/><use href="#am" x="283"/><use href="#k" x="73"/></g>
<g transform="translate(0,2661)"><path class="g" d="M94 0H276"/><use href="#t" x="94"/><use href="#ag" x="276"/><use href="#k" x="108"/></g>
<g transform="translate(0,2672)"><path class="g" d="M94 0H276"/><use href="#t" x="94"/><use href="#ag" x="276"/><use href="#k" x="108"/></g>
<g transform="translate(0,2683)"><path class="g" d="M94 0H276"/><use href="#t" x="94"/><use href="#ag" x="276"/><use href="#k" x="108"/></g>
<g transform="translate(0,2694)"><path class="g" d="M94 0H276"/><use href="#t" x="94"/><use href="#ag" x="276"/><use href="#k" x="108"/></g>
<g transform="translate(0,2705)"><path class="m" d="M94 0H327"/><use href="#t" x="94"/><use href="#am" x="327"/></g>
<g transform="translate(0,2716)"><path class="m" d="M94 0H327"/><use href="#t" x="94"/><use href="#am" x="327"/></g>
<g transform="translate(0,2727)"><path class="g" d="M94 0H292"/><use href="#t" x="94"/><use href="#ag" x="292"/><use href="#k" x="108"/></g>
<g transform="translate(0,2738)"><path class="g" d="M115 0H285"/><use href="#t" x="115"/><use href="#ag" x="285"/></g>
<g transform="translate(0,2749)"><path class="g" d="M94 0H285"/><use href="#t" x="94"/><use href="#ag" x="285"/><use href="#k" x="108"/></g>
<g transform="translate(0,2760)"><path class="g" d="M94 0H276"/><use href="#t" x="94"/><use href="#ag" x="276"/><use href="#k" x="108"/></g>
<g transform="translate(0,2771)"><path class="g" d="M94 0H348"/><use href="#t" x="94"/><use href="#ag" x="348"/><use href="#k" x="108"/><use href="#k" x="158"/></g>
<g transform="translate(0,2782)"><path class="g" d="M94 0H348"/><use href="#t" x="94"/><use href="#ag" x="348"/><use href="#k" x="108"/><use href="#k" x="158"/></g>
<g transform="translate(0,2793)"><path class="m" d="M138 0H413"/><use href="#t" x="138"/><use href="#am" x="413"/></g>
</g>

<g class="lab">
<text x="527" y="69">UniRef100_A8J574</text>
<text x="527" y="80">UniRef100_C5XK26</text>
<text x="527" y="91">UniRef100_B4F8W2</text>
<text x="527" y="102">UniRef100_A9REW0</text>
<text x="527" y="113">UniRef100_UPI000..</text>
<text x="527" y="124">UniRef100_Q5JNJ6</text>
<text x="527" y="135">UniRef100_Q0JJC7</text>
<text x="527" y="146">UniRef100_B8A9E8</text>
<text x="527" y="157">UniRef100_B9EZN2</text>
<text x="527" y="168">UniRef100_Q1EP28</text>
<text x="527" y="179">UniRef100_UPI000..</text>
<text x="527" y="190">UniRef100_UPI000..</text>
<text x="527" y="201">UniRef100_A7P1Q0</text>
<text x="527" y="212">UniRef100_B9T6N4</text>
<text x="527" y="223">UniRef100_B9HZT9</text>
<text x="527" y="234">UniRef100_Q9LNN8</text>
<text x="527" y="245">UniRef100_C0P376</text>
<text x="527" y="256">UniRef100_Q55AX0</text>
<text x="527" y="267">UniRef100_C4LZL0</text>
<text x="527" y="278">UniRef100_B0EQQ8</text>
<text x="527" y="289">UniRef100_B1N5F9</text>
<text x="527" y="300">UniRef100_A4RWN8</text>
<text x="527" y="311">UniRef100_C0PEU8</text>
<text x="527" y="322">UniRef100_Q01A95</text>
<text x="527" y="333">UniRef100_C5YSU4</text>
<text x="527" y="344">UniRef100_C1EDQ5</text>
<text x="527" y="355">UniRef100_B9WZD1</text>
<text x="527" y="366">UniRef100_UPI000..</text>
<text x="527" y="377">UniRef100_Q9LJM3</text>
<text x="527" y="388">UniRef100_Q84N64</text>
<text x="527" y="399">UniRef100_Q3EB39</text>
<text x="527" y="410">UniRef100_B9WZD5</text>
<text x="527" y="421">UniRef100_A9TSD5</text>
<text x="527" y="432">UniRef100_B7G2X3</text>
<text x="527" y="443">UniRef100_B9WZC7</text>
<text x="527" y="454">UniRef100_A9RZY7</text>
<text x="527" y="465">UniRef100_Q2QWX6</text>
<text x="527" y="476">UniRef100_Q0IPN9</text>
<text x="527" y="487">UniRef100_B9GC58</text>
<text x="527" y="498">UniRef100_B8C5C4</text>
<text x="527" y="509">UniRef100_A7Q6T0</text>
<text x="527" y="520">UniRef100_B8BNG2</text>
<text x="527" y="531">UniRef100_B9SRI2</text>
<text x="527" y="542">UniRef100_Q3LHM9</text>
<text x="527" y="553">UniRef100_B9WZC9</text>
<text x="527" y="564">UniRef100_B9HAE8</text>
<text x="527" y="575">UniRef100_A9TMG0</text>
<text x="527" y="586">UniRef100_Q84KL1</text>
<text x="527" y="597">UniRef100_B9RKQ3</text>
<text x="527" y="608">UniRef100_A8IB14</text>
<text x="527" y="619">UniRef100_Q5KKV8</text>
<text x="527" y="630">UniRef100_A8N8G1</text>
<text x="527" y="641">UniRef100_A8NZQ2</text>
<text x="527" y="652">UniRef100_A8NFI2</text>
<text x="527" y="663">UniRef100_Q4P3D5</text>
<text x="527" y="674">UniRef100_UPI000..</text>
<text x="527" y="685">UniRef100_UPI000..</text>
<text x="527" y="696">UniRef100_UPI000..</text>
<text x="527" y="707">UniRef100_A9FGB1</text>
<text x="527" y="718">UniRef100_UPI000..</text>
<text x="527" y="729">UniRef100_UPI000..</text>
<text x="527" y="740">UniRef100_UPI000..</text>
<text x="527" y="751">UniRef100_UPI000..</text>
<text x="527" y="762">UniRef100_Q4RYP5</text>
<text x="527" y="773">UniRef100_B8JIY8</text>
<text x="527" y="784">UniRef100_C1EIK3</text>
<text x="527" y="795">UniRef100_B7G3L7</text>
<text x="527" y="806">UniRef100_B3RIM2</text>
<text x="527" y="817">UniRef100_UPI000..</text>
<text x="527" y="828">UniRef100_UPI000..</text>
<text x="527" y="839">UniRef100_UPI000..</text>
<text x="527" y="850">UniRef100_UPI000..</text>
<text x="527" y="861">UniRef100_UPI000..</text>
<text x="527" y="872">UniRef100_UPI000..</text>
<text x="527" y="883">UniRef100_UPI000..</text>
<text x="527" y="894">UniRef100_UPI000..</text>
<text x="527" y="905">UniRef100_UPI000..</text>
<text x="527" y="916">UniRef100_UPI000..</text>
<text x="527" y="927">UniRef100_UPI000..</text>
<text x="527" y="938">UniRef100_UPI000..</text>
<text x="527" y="949">UniRef100_UPI000..</text>
<text x="527" y="960">UniRef100_UPI000..</text>
<text x="527" y="971">UniRef100_UPI000..</text>
<text x="527" y="982">UniRef100_UPI000..</text>
<text x="527" y="993">UniRef100_Q4TCA1</text>
<text x="527" y="1004">UniRef100_Q4SJL3</text>
<text x="527" y="1015">UniRef100_C5XGA4</text>
<text x="527" y="1026">UniRef100_B8AT28</text>
<text x="527" y="1037">UniRef100_C3Z576</text>
<text x="527" y="1048">UniRef100_UPI000..</text>
<text x="527" y="1059">UniRef100_Q6MYT8</text>
<text x="527" y="1070">UniRef100_Q0TZ50</text>
<text x="527" y="1081">UniRef100_B0XQW7</text>
<text x="527" y="1092">UniRef100_A1D2M4</text>
<text x="527" y="1103">UniRef100_UPI000..</text>
<text x="527" y="1114">UniRef100_Q4A2Z7</text>
<text x="527" y="1125">UniRef100_Q2J3C8</text>
<text x="527" y="1136">UniRef100_Q5JJJ5</text>
<text x="527" y="1147">UniRef100_C1MXW9</text>
<text x="527" y="1158">UniRef100_B9EVX0</text>
<text x="527" y="1169">UniRef100_B8A8F0</text>
<text x="527" y="1180">UniRef100_C4JQL2</text>
<text x="527" y="1191">UniRef100_B6HJ22</text>
<text x="527" y="1202">UniRef100_B2WDN8</text>
<text x="527" y="1213">UniRef100_UPI000..</text>
<text x="527" y="1224">UniRef100_UPI000..</text>
<text x="527" y="1235">UniRef100_UPI000..</text>
<text x="527" y="1246">UniRef100_UPI000..</text>
<text x="527" y="1257">UniRef100_UPI000..</text>
<text x="527" y="1268">UniRef100_UPI000..</text>
<text x="527" y="1279">UniRef100_UPI000..</text>
<text x="527" y="1290">UniRef100_UPI000..</text>
<text x="527" y="1301">UniRef100_UPI000..</text>
<text x="527" y="1312">UniRef100_UPI000..</text>
<text x="527" y="1323">UniRef100_UPI000..</text>
<text x="527" y="1334">UniRef100_UPI000..</text>
<text x="527" y="1345">UniRef100_UPI000..</text>
<text x="527" y="1356">UniRef100_UPI000..</text>
<text x="527" y="1367">UniRef100_UPI000..</text>
<text x="527" y="1378">UniRef100_UPI000..</text>
<text x="527" y="1389">UniRef100_UPI000..</text>
<text x="527" y="1400">UniRef100_UPI000..</text>
<text x="527" y="1411">UniRef100_UPI000..</text>
<text x="527" y="1422">UniRef100_UPI000..</text>
<text x="527" y="1433">UniRef100_UPI000..</text>
<text x="527" y="1444">UniRef100_UPI000..</text>
<text x="527" y="1455">UniRef100_UPI000..</text>
<text x="527" y="1466">UniRef100_UPI000..</text>
<text x="527" y="1477">UniRef100_UPI000..</text>
<text x="527" y="1488">UniRef100_UPI000..</text>
<text x="527" y="1499">UniRef100_UPI000..</text>
<text x="527" y="1510">UniRef100_UPI000..</text>
<text x="527" y="1521">UniRef100_UPI000..</text>
<text x="527" y="1532">UniRef100_UPI000..</text>
<text x="527" y="1543">UniRef100_UPI000..</text>
<text x="527" y="1554">UniRef100_UPI000..</text>
<text x="527" y="1565">UniRef100_UPI000..</text>
<text x="527" y="1576">UniRef100_Q4SE62</text>
<text x="527" y="1587">UniRef100_Q3TCR7</text>
<text x="527" y="1598">UniRef100_Q3TBU6</text>
<text x="527" y="1609">UniRef100_Q3T9X3</text>
<text x="527" y="1620">UniRef100_A8K1B6</text>
<text x="527" y="1631">UniRef100_Q9U1M9</text>
<text x="527" y="1642">UniRef100_P39052-2</text>
<text x="527" y="1653">UniRef100_P39052-3</text>
<text x="527" y="1664">UniRef100_P39052-4</text>
<text x="527" y="1675">UniRef100_P39052</text>
<text x="527" y="1686">UniRef100_P39054-2</text>
<text x="527" y="1697">UniRef100_P39054</text>
<text x="527" y="1708">UniRef100_P50570-2</text>
<text x="527" y="1719">UniRef100_P50570</text>
<text x="527" y="1730">UniRef100_UPI000..</text>
<text x="527" y="1741">UniRef100_UPI000..</text>
<text x="527" y="1752">UniRef100_UPI000..</text>
<text x="527" y="1763">UniRef100_UPI000..</text>
<text x="527" y="1774">UniRef100_UPI000..</text>
<text x="527" y="1785">UniRef100_UPI000..</text>
<text x="527" y="1796">UniRef100_UPI000..</text>
<text x="527" y="1807">UniRef100_UPI000..</text>
<text x="527" y="1818">UniRef100_UPI000..</text>
<text x="527" y="1829">UniRef100_UPI000..</text>
<text x="527" y="1840">UniRef100_UPI000..</text>
<text x="527" y="1851">UniRef100_UPI000..</text>
<text x="527" y="1862">UniRef100_UPI000..</text>
<text x="527" y="1873">UniRef100_UPI000..</text>
<text x="527" y="1884">UniRef100_UPI000..</text>
<text x="527" y="1895">UniRef100_UPI000..</text>
<text x="527" y="1906">UniRef100_UPI000..</text>
<text x="527" y="1917">UniRef100_UPI000..</text>
<text x="527" y="1928">UniRef100_UPI000..</text>
<text x="527" y="1939">UniRef100_UPI000..</text>
<text x="527" y="1950">UniRef100_UPI000..</text>
<text x="527" y="1961">UniRef100_UPI000..</text>
<text x="527" y="1972">UniRef100_UPI000..</text>
<text x="527" y="1983">UniRef100_UPI000..</text>
<text x="527" y="1994">UniRef100_UPI000..</text>
<text x="527" y="2005">UniRef100_UPI000..</text>
<text x="527" y="2016">UniRef100_Q8BUT2</text>
<text x="527" y="2027">UniRef100_Q7XS31</text>
<text x="527" y="2038">UniRef100_Q0JDS3</text>
<text x="527" y="2049">UniRef100_C5XEJ9</text>
<text x="527" y="2060">UniRef100_B9FET9</text>
<text x="527" y="2071">UniRef100_Q6P2G1</text>
<text x="527" y="2082">UniRef100_C9JXE5</text>
<text x="527" y="2093">UniRef100_B5MDD8</text>
<text x="527" y="2104">UniRef100_B3KPF2</text>
<text x="527" y="2115">UniRef100_A6NJ48</text>
<text x="527" y="2126">UniRef100_Q1DKZ6</text>
<text x="527" y="2137">UniRef100_C5PCR1</text>
<text x="527" y="2148">UniRef100_C0SCS0</text>
<text x="527" y="2159">UniRef100_B6K0U1</text>
<text x="527" y="2170">UniRef100_B0CT88</text>
<text x="527" y="2181">UniRef100_Q08877-5</text>
<text x="527" y="2192">UniRef100_Q08877..</text>
<text x="527" y="2203">UniRef100_Q08877..</text>
<text x="527" y="2214">UniRef100_Q08877-4</text>
<text x="527" y="2225">UniRef100_Q08877-8</text>
<text x="527" y="2236">UniRef100_Q08877-2</text>
<text x="527" y="2247">UniRef100_Q08877..</text>
<text x="527" y="2258">UniRef100_Q08877-9</text>
<text x="527" y="2269">UniRef100_Q08877-7</text>
<text x="527" y="2280">UniRef100_Q08877-3</text>
<text x="527" y="2291">UniRef100_Q08877..</text>
<text x="527" y="2302">UniRef100_Q08877-6</text>
<text x="527" y="2313">UniRef100_Q08877</text>
<text x="527" y="2324">UniRef100_Q8BZ98-2</text>
<text x="527" y="2335">UniRef100_Q8BZ98</text>
<text x="527" y="2346">UniRef100_Q9UQ16-2</text>
<text x="527" y="2357">UniRef100_Q9UQ16-3</text>
<text x="527" y="2368">UniRef100_Q9UQ16-4</text>
<text x="527" y="2379">UniRef100_Q9UQ16</text>
<text x="527" y="2390">UniRef100_P21575-7</text>
<text x="527" y="2401">UniRef100_P21575-3</text>
<text x="527" y="2412">UniRef100_P21575-4</text>
<text x="527" y="2423">UniRef100_P21575-8</text>
<text x="527" y="2434">UniRef100_P21575</text>
<text x="527" y="2445">UniRef100_P39053-5</text>
<text x="527" y="2456">UniRef100_P39053-2</text>
<text x="527" y="2467">UniRef100_P39053-3</text>
<text x="527" y="2478">UniRef100_P39053-4</text>
<text x="527" y="2489">UniRef100_P39053-6</text>
<text x="527" y="2500">UniRef100_P39053</text>
<text x="527" y="2511">UniRef100_UPI000..</text>
<text x="527" y="2522">UniRef100_UPI000..</text>
<text x="527" y="2533">UniRef100_UPI000..</text>
<text x="527" y="2544">UniRef100_UPI000..</text>
<text x="527" y="2555">UniRef100_UPI000..</text>
<text x="527" y="2566">UniRef100_UPI000..</text>
<text x="527" y="2577">UniRef100_UPI000..</text>
<text x="527" y="2588">UniRef100_UPI000..</text>
<text x="527" y="2599">UniRef100_C0H8R8</text>
<text x="527" y="2610">UniRef100_B5YMC0</text>
<text x="527" y="2621">UniRef100_A7E382</text>
<text x="527" y="2632">UniRef100_C3ZAE2</text>
<text x="527" y="2643">UniRef100_A9V9D1</text>
<text x="527" y="2654">UniRef100_A2QQZ6</text>
<text x="527" y="2665">UniRef100_UPI000..</text>
<text x="527" y="2676">UniRef100_UPI000..</text>
<text x="527" y="2687">UniRef100_UPI000..</text>
<text x="527" y="2698">UniRef100_UPI000..</text>
<text x="527" y="2709">UniRef100_UPI000..</text>
<text x="527" y="2720">UniRef100_UPI000..</text>
<text x="527" y="2731">UniRef100_UPI000..</text>
<text x="527" y="2742">UniRef100_UPI000..</text>
<text x="527" y="2753">UniRef100_UPI000..</text>
<text x="527" y="2764">UniRef100_UPI000..</text>
<text x="527" y="2775">UniRef100_Q5XGH8</text>
<text x="527" y="2786">UniRef100_A5PKP8</text>
<text x="527" y="2797">UniRef100_A8I5K1</text>
</g>

<!-- legend -->
<g font-family="Liberation Mono, monospace" font-size="10" fill="#fff">
<text x="10" y="2815">Large gaps:</text>
<path d="M81 2814v-5l1.5-1 1.5 1v5z" fill="#ffff80"/>
<text x="85" y="2815">(in Query)/</text>
<path d="M155 2811h5" stroke="#00c0c0" stroke-width="1.5"/>
<text x="165" y="2815">(in Subject)</text>
<path d="M438 2811h20" stroke="#00c0c0" stroke-width="3"/>
<path d="M438 2807v8M457 2807v8" stroke="#334" stroke-width="1"/>
<text x="460" y="2815">=100char.</text>
</g>
</svg>
</body></html>
